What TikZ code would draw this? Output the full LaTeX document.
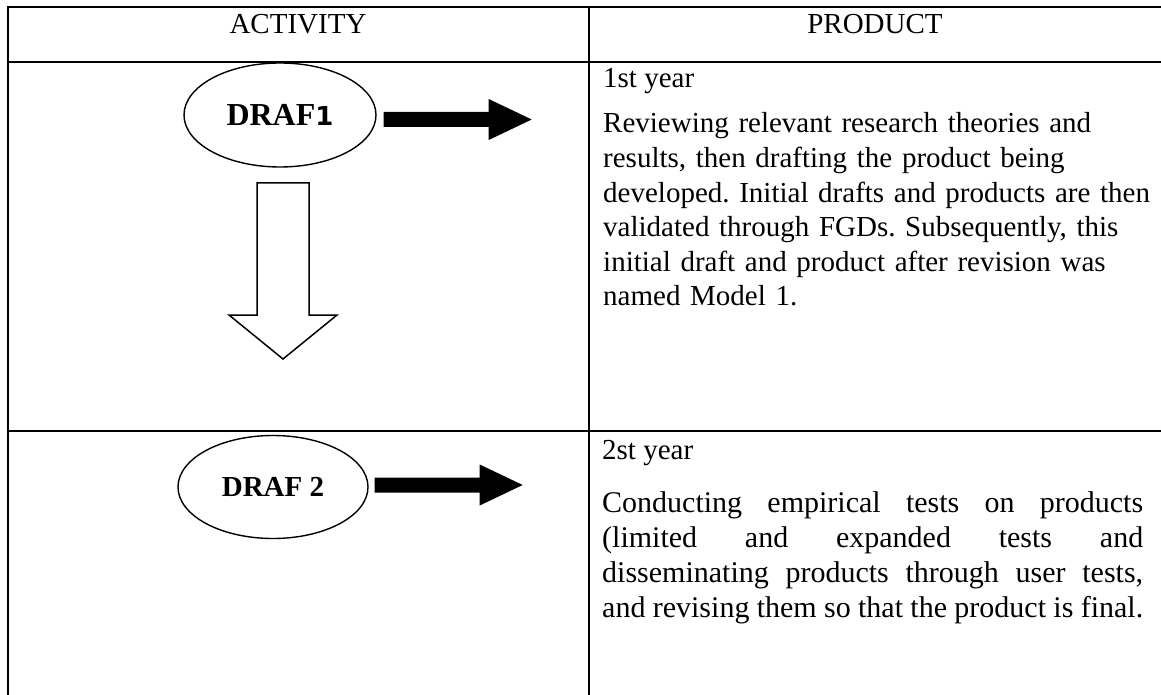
\documentclass[tikz,border=0pt]{standalone}
\usepackage{fontspec}
\setmainfont{Liberation Serif}
\newfontfamily\digitfont{DejaVu Sans}
\usetikzlibrary{shapes.geometric,calc}
\frenchspacing
\begin{document}
\begin{tikzpicture}[x=1pt,y=-1pt,
  hrule/.style={line width=2.6pt},
  vrule/.style={line width=2pt},
  oval/.style={draw,ellipse,line width=1.4pt,inner sep=0pt},
  headtext/.style={anchor=base,inner sep=0pt,font=\fontsize{29}{34.6}\selectfont},
  celltext/.style={anchor=base west,inner sep=0pt,font=\fontsize{29}{34.6}\selectfont},
  fatarrow/.pic={\fill (0,-7.5) -- (105,-7.5) -- (105,-20.5) -- (148,0)
                 -- (105,20.5) -- (105,7.5) -- (0,7.5) -- cycle;},
  hollowarrow/.pic={\draw[line width=1.5pt,line join=miter]
                 (-26,0) -- (26,0) -- (26,132) -- (54,132) -- (0,176)
                 -- (-54,132) -- (-26,132) -- cycle;}
]
\useasboundingbox (0,0) rectangle (1161,695);

% table grid
\coordinate (tl) at (8,7);
\coordinate (hs) at (8,62);
\coordinate (rs) at (8,431);
\draw[hrule] (tl) -- (1161,7);
\draw[hrule] (hs) -- (1161,62);
\draw[hrule] (rs) -- (1161,431);
\draw[vrule] (8,6) -- (8,695);
\draw[vrule] (589,6) -- (589,695);

% header
\node[headtext] (hact) at (298,34) {ACTIVITY};
\node[headtext] (hprod) at (875,34) {PRODUCT};

% activity column, first row
\node[oval,minimum width=192pt,minimum height=104pt] (d1) at (280,115)
  {\fontsize{32}{32}\selectfont\bfseries DRAF{\digitfont\bfseries\fontsize{26}{26}\selectfont 1}};
\path (d1.east) ++(7,4.5) pic {fatarrow};
\path (283,183) pic {hollowarrow};

% activity column, second row
\node[oval,minimum width=190pt,minimum height=103pt] (d2) at (273,487)
  {\fontsize{29}{29}\selectfont\bfseries DRAF 2};
\path (d2.east) ++(6,-2) pic {fatarrow};

% product column
\node[celltext] (y1) at (603,88) {1st year};
\node[celltext,text width=600pt,align=left] (p1) at (603,133)
  {Reviewing relevant research theories and\\
   results, then drafting the product being\\
   developed. Initial drafts and products are then\\
   validated through FGDs. Subsequently, this\\
   initial draft and product after revision was\\
   named Model 1.};

\node[celltext] (y2) at (602,459) {2st year};
\node[celltext,text width=541pt,align=justify,font=\fontsize{30}{35}\selectfont] (p2) at (602,512)
  {Conducting empirical tests on products\linebreak
   (limited and expanded tests and\linebreak
   disseminating products through user tests,\linebreak
   and revising them so that the product is final.};
\end{tikzpicture}
\end{document}
